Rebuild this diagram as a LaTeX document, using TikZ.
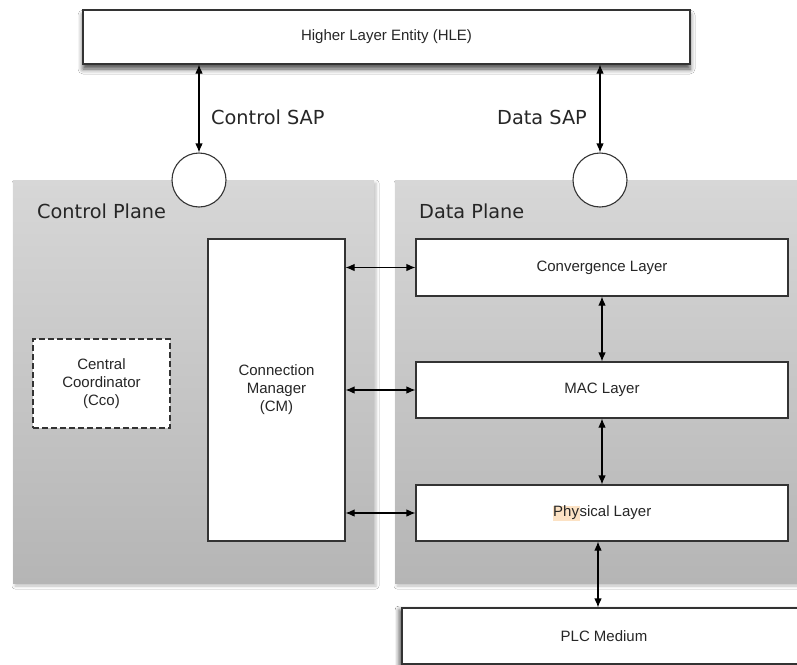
\documentclass[tikz,border=0pt]{standalone}
\usepackage{fontspec}
\setmainfont{Liberation Sans}
\newfontfamily\labelfont{DejaVu Sans}
\usetikzlibrary{arrows.meta,shadows.blur}

\definecolor{panelTop}{HTML}{D7D7D7}
\definecolor{panelBot}{HTML}{B5B5B5}
\definecolor{edge}{HTML}{333333}
\definecolor{marker}{HTML}{FCE2C4}

\begin{document}
\begin{tikzpicture}[x=1pt,y=-1pt,
  box/.style={draw=edge, line width=1.1pt, fill=white, align=center, inner sep=0pt,
    font=\fontsize{15}{18}\selectfont, text=black!85},
  shadowbox/.style={box, blur shadow={shadow xshift=0pt, shadow yshift=-5pt,
    shadow blur radius=5pt, shadow opacity=70}},
  panel/.style={draw=none, inner sep=0pt, top color=panelTop, bottom color=panelBot,
    blur shadow={shadow xshift=2pt, shadow yshift=-3pt, shadow blur radius=3pt, shadow opacity=25}},
  sap/.style={circle, draw=edge, line width=1.1pt, fill=white, minimum size=54pt, inner sep=0pt},
  link/.style={{Latex[length=9pt,width=7.5pt]}-{Latex[length=9pt,width=7.5pt]}, line width=1.1pt},
  lbl/.style={font=\labelfont\fontsize{19.3}{22}\selectfont, anchor=west, inner sep=0pt, text=black!85},
]
\useasboundingbox (0,0) rectangle (797,664);
\fill[white] (0,0) rectangle (797,664);

% planes
\node[panel, minimum width=361pt, minimum height=403pt] (cplane) at (193.5,381.5) {};
\node[panel, minimum width=410pt, minimum height=403pt] (dplane) at (600,381.5) {};
\node[lbl] (cplabel) at (37,211) {Control Plane};
\node[lbl] (dplabel) at (419,211) {Data Plane};

% higher layer entity and access points
\node[shadowbox, minimum width=607pt, minimum height=54pt] (hle) at (386.5,37) {Higher Layer Entity (HLE)};
\node[sap] (csap) at (199,180) {};
\node[sap] (dsap) at (600,180) {};
\node[lbl] (csaplabel) at (211,117) {Control SAP};
\node[lbl] (dsaplabel) at (497,117) {Data SAP};

% control plane blocks
\node[box, dashed, dash pattern=on 6pt off 3pt, line width=1.4pt, minimum width=137pt, minimum height=89pt] (cco) at (101.5,383.5) {Central\\Coordinator\\(Cco)};
\node[box, minimum width=137pt, minimum height=302pt] (cm) at (276.5,390) {Connection\\Manager\\(CM)};

% data plane layers
\node[box, minimum width=372pt, minimum height=57pt] (conv) at (602,267.5) {Convergence Layer};
\node[box, minimum width=372pt, minimum height=56pt] (mac) at (602,390) {MAC Layer};
\node[box, minimum width=372pt, minimum height=56pt] (phy) at (602,513)
  {{\setlength{\fboxsep}{0.5pt}\colorbox{marker}{Phy}}sical Layer};
\node[shadowbox, minimum width=404pt, minimum height=56pt, blur shadow={shadow xshift=-3pt, shadow yshift=-2pt, shadow blur radius=4pt, shadow opacity=35}] (plc) at (604,636) {PLC Medium};

% connectors
\draw[link] (csap.north |- hle.south) -- (csap.north);
\draw[link] (dsap.north |- hle.south) -- (dsap.north);
\draw[link] (conv.west -| cm.east) -- (conv.west);
\draw[link] (mac.west -| cm.east) -- (mac.west);
\draw[link] (phy.west -| cm.east) -- (phy.west);
\draw[link] (conv.south) -- (mac.north);
\draw[link] (mac.south) -- (phy.north);
\draw[link] ([xshift=-4pt]phy.south) -- ([xshift=-4pt]phy.south |- plc.north);
\end{tikzpicture}
\end{document}
